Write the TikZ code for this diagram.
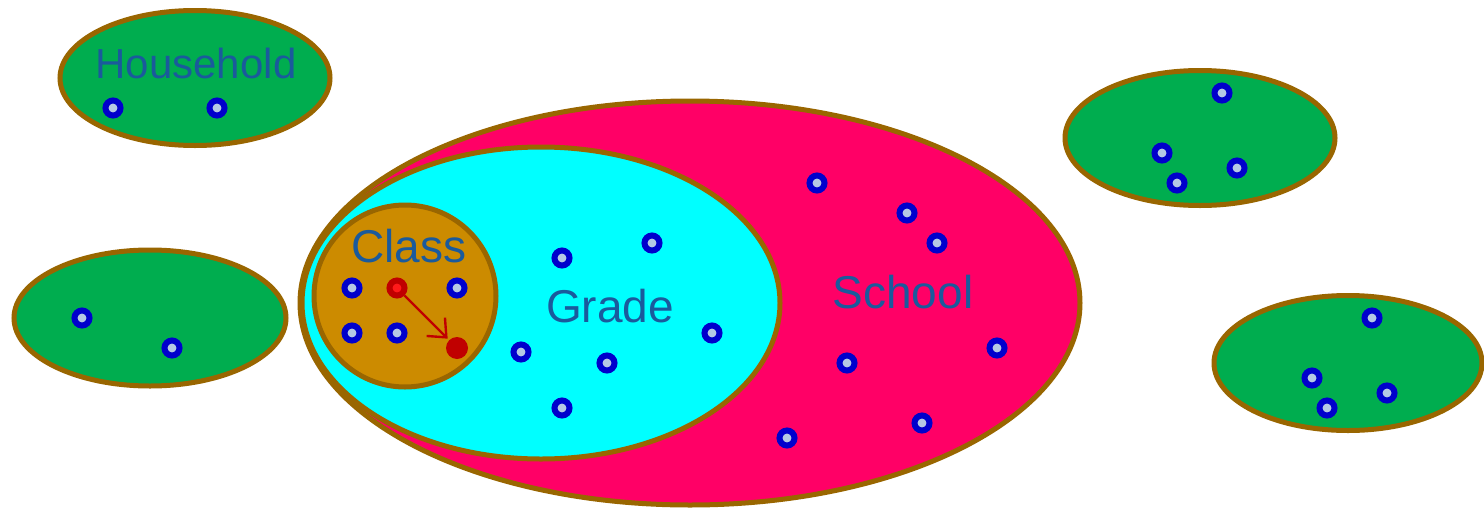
\documentclass[tikz,border=0pt]{standalone}
\usepackage{fontspec}
\setmainfont{Liberation Sans}
\usetikzlibrary{shapes.geometric,arrows.meta}
\definecolor{grn}{HTML}{00AD4F}
\definecolor{brd}{HTML}{996600}
\definecolor{pnk}{HTML}{FF0066}
\definecolor{cyn}{HTML}{00FFFF}
\definecolor{cls}{HTML}{CC8B00}
\definecolor{txt}{HTML}{1A5A9C}
\definecolor{dotb}{HTML}{0000CC}
\definecolor{dotf}{HTML}{B4C8E4}
\definecolor{dred}{HTML}{C00000}
\definecolor{bred}{HTML}{FF1A1A}
\tikzset{
  group/.style={ellipse, draw=brd, line width=5pt, inner sep=0pt},
  grp/.style={group, fill=grn, minimum width=270pt, minimum height=135pt},
  person/.style={circle, draw=dotb, fill=dotf, line width=6pt, minimum size=15pt, inner sep=0pt},
  redsrc/.style={circle, draw=dred, fill=bred, line width=6pt, minimum size=15pt, inner sep=0pt},
  reddst/.style={circle, fill=dred, minimum size=22pt, inner sep=0pt},
  lbl/.style={text=txt, font=\fontsize{46}{52}\selectfont, inner sep=0pt},
}
\begin{document}
\begin{tikzpicture}[x=1pt,y=-1pt]
\useasboundingbox (0,0) rectangle (1484,509);
% ellipses
\node[grp] (hh) at (195,78) {};
\node[grp, minimum width=272pt, minimum height=136pt] (g2) at (150,318) {};
\node[grp] (g3) at (1200,138) {};
\node[grp, minimum width=268pt] (g4) at (1348,363) {};
\node[group, fill=pnk, minimum width=780pt, minimum height=404pt] (school) at (690,303) {};
\node[group, fill=cyn, minimum width=478pt, minimum height=312pt] (grade) at (541,303) {};
\node[circle, draw=brd, line width=5pt, fill=cls, minimum size=182pt, inner sep=0pt] (class) at (405,296) {};
% labels
\node[lbl, font=\fontsize{42}{48}\selectfont] (thh) at (196,63) {Household};
\node[lbl] (tcl) at (409,246) {Class};
\node[lbl] (tgr) at (610,306) {Grade};
\node[lbl] (tsc) at (903,292) {School};
% people
\node[person] (h1) at (113,108) {};
\node[person] (h2) at (217,108) {};
\node[person] (a1) at (82,318) {};
\node[person] (a2) at (172,348) {};
\node[person] (b1) at (1222,93) {};
\node[person] (b2) at (1162,153) {};
\node[person] (b3) at (1237,168) {};
\node[person] (b4) at (1177,183) {};
\node[person] (c1) at (1372,318) {};
\node[person] (c2) at (1312,378) {};
\node[person] (c3) at (1387,393) {};
\node[person] (c4) at (1327,408) {};
\node[person] (k1) at (352,288) {};
\node[person] (k2) at (457,288) {};
\node[person] (k3) at (352,333) {};
\node[person] (k4) at (397,333) {};
\node[person] (r1) at (562,258) {};
\node[person] (r2) at (652,243) {};
\node[person] (r3) at (712,333) {};
\node[person] (r4) at (521,352) {};
\node[person] (r5) at (607,363) {};
\node[person] (r6) at (562,408) {};
\node[person] (s1) at (817,183) {};
\node[person] (s2) at (907,213) {};
\node[person] (s3) at (937,243) {};
\node[person] (s4) at (997,348) {};
\node[person] (s5) at (847,363) {};
\node[person] (s6) at (922,423) {};
\node[person] (s7) at (787,438) {};
% red move
\node[redsrc] (src) at (397,288) {};
\node[reddst] (dst) at (457,348) {};
\draw[dred, line width=2.4pt, -{Straight Barb[length=15pt,width=26pt,line width=2.4pt]}, shorten >=2pt] (src) -- (dst);
\end{tikzpicture}
\end{document}
